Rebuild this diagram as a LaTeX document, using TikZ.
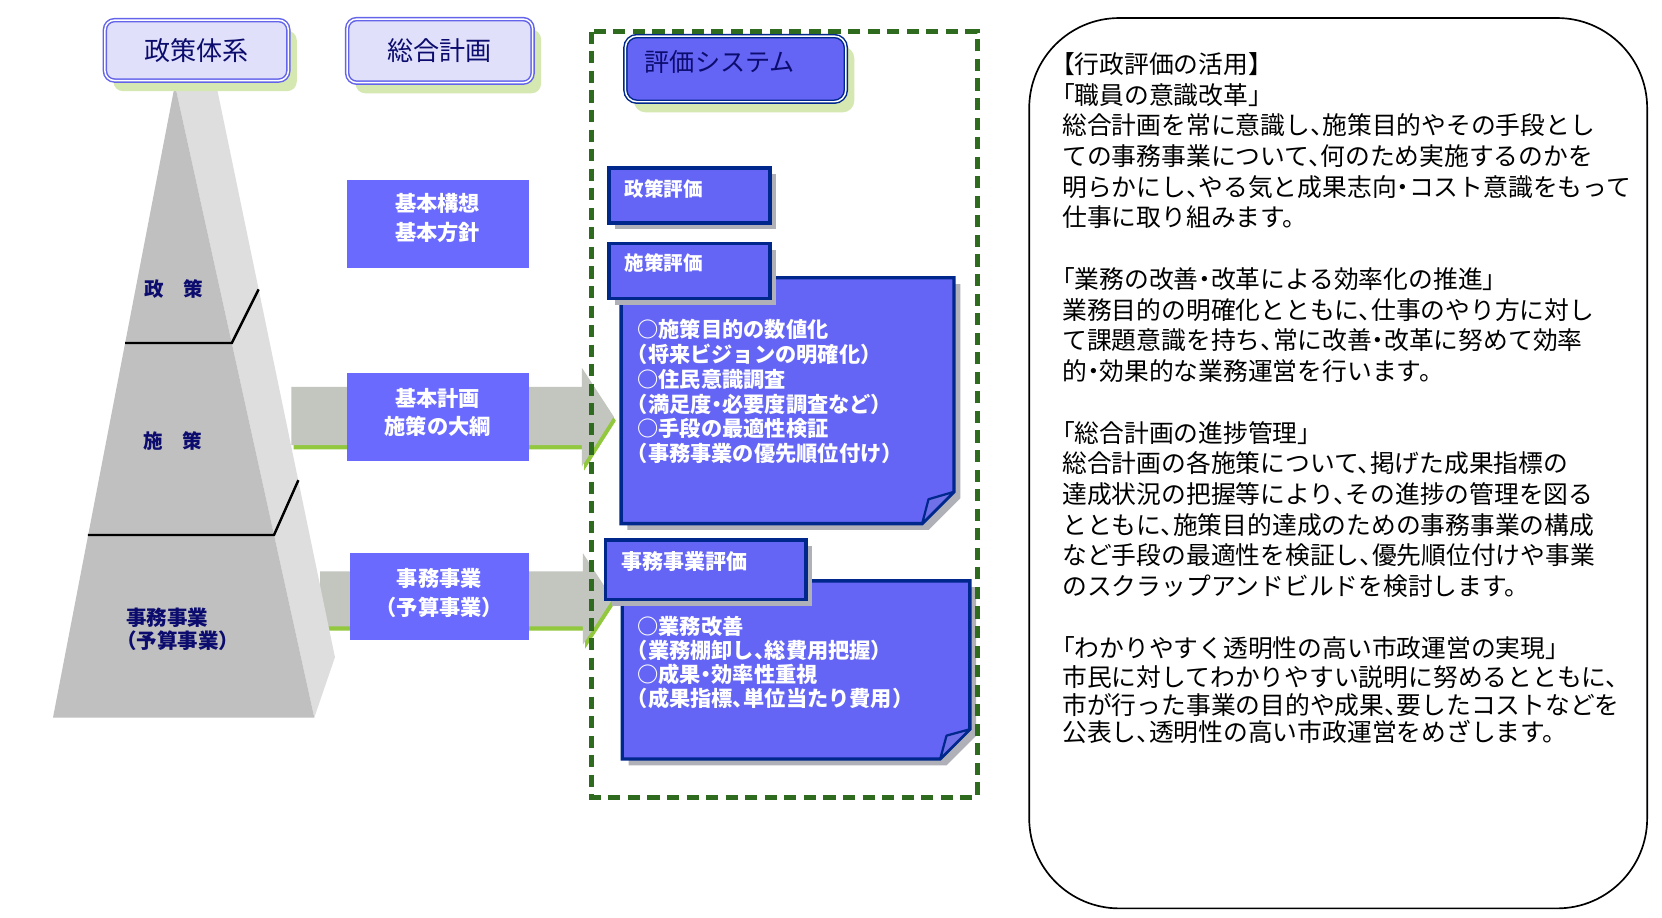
\documentclass[tikz,border=0pt]{standalone}
\usepackage{fontspec}
\setmainfont{Noto Sans CJK JP}[RawFeature=+halt]
\usepackage{tikz}
\usetikzlibrary{shadows}

\definecolor{hdrfill}{RGB}{224,224,250}
\definecolor{hdrline}{RGB}{100,100,235}
\definecolor{navytxt}{RGB}{12,12,110}
\definecolor{shgreen}{RGB}{214,232,178}
\definecolor{planblue}{RGB}{106,106,255}
\definecolor{evalblue}{RGB}{100,100,245}
\definecolor{evalline}{RGB}{0,40,140}
\definecolor{flapblue}{RGB}{112,112,232}
\definecolor{shgray}{RGB}{176,176,184}
\definecolor{dashgreen}{RGB}{46,107,30}
\definecolor{arrgray}{RGB}{194,198,190}
\definecolor{arrgreen}{RGB}{146,200,62}
\definecolor{pyrfront}{RGB}{192,192,192}
\definecolor{pyrside}{RGB}{222,222,222}

\begin{document}
\begin{tikzpicture}[x=0.02cm,y=-0.02cm,
  hdrbox/.style={draw=hdrline, line width=0.8pt, double=white, double distance=0.8pt, fill=hdrfill, rounded corners=0.18cm, text=navytxt, font=\fontsize{14}{16}\selectfont, drop shadow={shadow xshift=0.16cm, shadow yshift=-0.2cm, fill=shgreen, opacity=1}},
  sysbox/.style={hdrbox, draw=evalline, fill=evalblue, rounded corners=0.22cm},
  planbox/.style={fill=planblue, inner sep=0pt, minimum width=3.44cm, minimum height=1.66cm},
  plantxt/.style={text=white, align=center, inner sep=0pt, font=\bfseries\fontsize{11.4}{15.4}\selectfont},
  evalbox/.style={draw=evalline, line width=1.8pt, fill=evalblue, drop shadow={shadow xshift=0.12cm, shadow yshift=-0.12cm, fill=shgray, opacity=1}},
  evaltxt/.style={anchor=west, inner sep=0pt, text=white, font=\bfseries\fontsize{10.5}{12}\selectfont},
  notetxt/.style={anchor=north west, inner sep=0pt, align=left, text=white, font=\bfseries\fontsize{11.4}{13.3}\selectfont},
  pyrtxt/.style={text=navytxt, inner sep=0pt, font=\bfseries\fontsize{10.5}{12.5}\selectfont},
  infotxt/.style={anchor=north west, inner sep=0pt, align=left, font=\fontsize{13.3}{16.5}\selectfont},
  arrband/.style={fill=arrgray},
  arrshade/.style={fill=arrgreen, xshift=0.04cm, yshift=-0.08cm}
]
\path[fill=white, use as bounding box] (0,0) rectangle (1568,866);

% block arrows into the evaluation system
\fill[arrshade] (275,365) -- (549,365) -- (549,347) -- (579,393) -- (549,440) -- (549,420) -- (275,420) -- cycle;
\fill[arrband] (275,365) -- (549,365) -- (549,347) -- (579,393) -- (549,440) -- (549,420) -- (275,420) -- cycle;
\fill[arrshade] (302,539) -- (550,539) -- (550,522) -- (578,565) -- (550,608) -- (550,591) -- (302,591) -- cycle;
\fill[arrband] (302,539) -- (550,539) -- (550,522) -- (578,565) -- (550,608) -- (550,591) -- (302,591) -- cycle;

% pyramid
\fill[pyrside] (165,80) -- (204,80) -- (316,620) -- (296.5,677) -- cycle;
\fill[pyrfront] (165,80) -- (296.5,677) -- (50,677) -- cycle;
\draw[line width=1.3pt] (118,323.6) -- (218.7,323.6) -- (244,273);
\draw[line width=1.3pt] (83,504.7) -- (258.5,504.7) -- (281.5,453);
\node[pyrtxt] (seisaku) at (164,273) {政\quad 策};
\node[pyrtxt] (shisaku) at (163,416) {施\quad 策};
\node[pyrtxt, align=left, anchor=west, font=\bfseries\fontsize{11}{12.5}\selectfont] (jimulbl) at (119,594) {事務事業\\（予算事業）};

% column headers
\node[hdrbox, minimum width=3.46cm, minimum height=1.14cm] (taikei) at (185.5,47.5) {政策体系};
\node[hdrbox, minimum width=3.5cm, minimum height=1.2cm] (sogo) at (415,48) {総合計画};

% plan boxes
\node[planbox] (koso) at (413,211.5) {};
\node[plantxt] (kosotxt) at (413,206) {基本構想\\基本方針};
\node[planbox] (keikaku) at (413,393) {};
\node[plantxt] (keikakutxt) at (413,389) {基本計画\\施策の大綱};
\node[planbox, minimum width=3.38cm, minimum height=1.64cm] (jimujigyo) at (414.5,563) {};
\node[plantxt] (jimujigyotxt) at (414.5,559.5) {事務事業\\（予算事業）};

% evaluation system
\node[sysbox, minimum width=4.16cm, minimum height=1.24cm] (system) at (694,65) {};
\node[anchor=west, inner sep=0pt, text=navytxt, font=\fontsize{13.5}{15}\selectfont] (systxt) at (608,58) {評価システム};

\node[evalbox, minimum width=3.04cm, minimum height=1.04cm] (seisakuhyoka) at (650.5,184.5) {};
\node[evaltxt] (seisakutxt) at (589,178) {政策評価};

\draw[evalbox] (586,262) -- (900,262) -- (900,464) -- (870,494) -- (586,494) -- cycle;
\draw[draw=evalline, line width=1.2pt, fill=flapblue, line join=round] (900,464) -- (870,494) -- (876,471) -- cycle;
\node[notetxt] (shisakunote) at (601,301) {○施策目的の数値化\\（将来ビジョンの明確化）\\○住民意識調査\\（満足度・必要度調査など）\\○手段の最適性検証\\（事務事業の優先順位付け）};
\node[evalbox, minimum width=3.04cm, minimum height=1.04cm] (shisakuhyoka) at (650.5,255.5) {};
\node[evaltxt] (shisakutxt) at (589,248) {施策評価};

\draw[evalbox] (587,548) -- (915,548) -- (915,688) -- (887,716) -- (587,716) -- cycle;
\draw[draw=evalline, line width=1.2pt, fill=flapblue, line join=round] (915,688) -- (887,716) -- (893,694) -- cycle;
\node[notetxt, font=\bfseries\fontsize{11.4}{12.9}\selectfont] (jimunote) at (601,581) {○業務改善\\（業務棚卸し、総費用把握）\\○成果・効率性重視\\（成果指標、単位当たり費用）};
\node[evalbox, minimum width=3.78cm, minimum height=1.12cm] (jimuhyoka) at (666,537.5) {};
\node[evaltxt, font=\bfseries\fontsize{11.3}{13}\selectfont] (jimutxt) at (586,530) {事務事業評価};

\draw[dashgreen, line width=2.6pt, dash pattern=on 6.5pt off 4pt] (558,30) rectangle (922,752);

% explanation panel
\draw[line width=0.9pt, rounded corners=1.7cm] (971,17) rectangle (1554,857);
\node[infotxt] (info) at (1002,49) {【行政評価の活用】\\%
「職員の意識改革」\\%
総合計画を常に意識し、施策目的やその手段とし\\%
ての事務事業について、何のため実施するのかを\\%
明らかにし、やる気と成果志向・コスト意識をもって\\%
仕事に取り組みます。\\[16.5pt]%
「業務の改善・改革による効率化の推進」\\%
業務目的の明確化とともに、仕事のやり方に対し\\%
て課題意識を持ち、常に改善・改革に努めて効率\\%
的・効果的な業務運営を行います。\\[16.5pt]%
「総合計画の進捗管理」\\%
総合計画の各施策について、掲げた成果指標の\\%
達成状況の把握等により、その進捗の管理を図る\\%
とともに、施策目的達成のための事務事業の構成\\%
など手段の最適性を検証し、優先順位付けや事業\\%
のスクラップアンドビルドを検討します。\\[16.5pt]%
「わかりやすく透明性の高い市政運営の実現」\\[-0.5pt]%
市民に対してわかりやすい説明に努めるとともに、\\[-1.5pt]%
市が行った事業の目的や成果、要したコストなどを\\[-2pt]%
公表し、透明性の高い市政運営をめざします。};
\end{tikzpicture}
\end{document}
